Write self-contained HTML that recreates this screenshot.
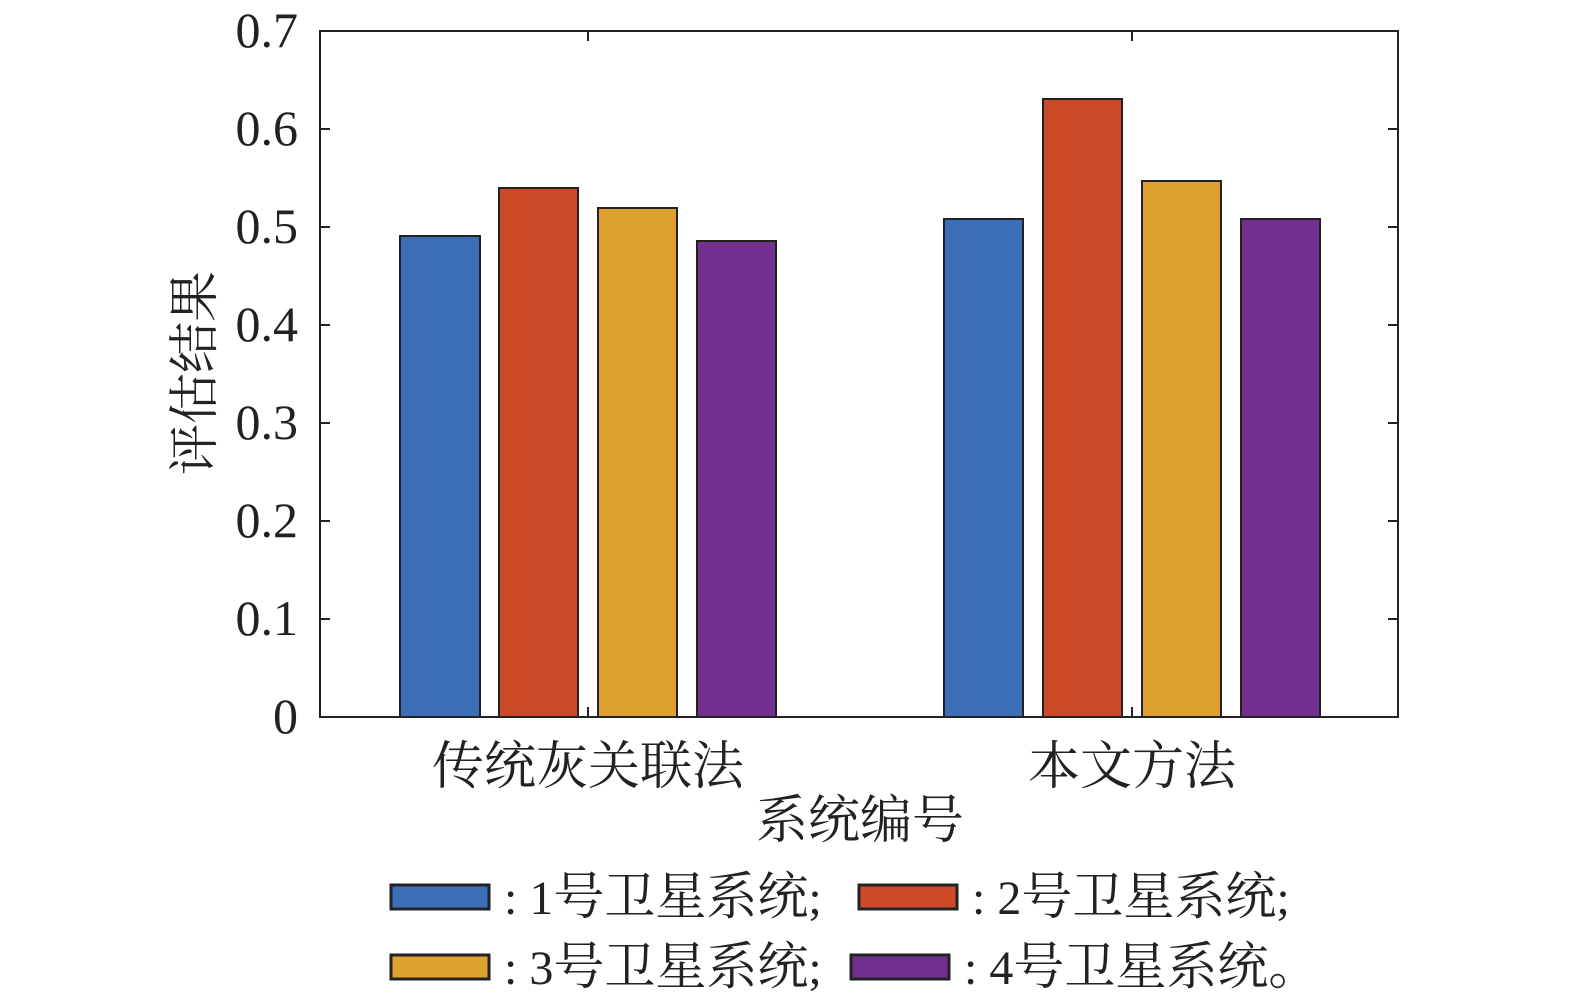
<!DOCTYPE html>
<html><head><meta charset="utf-8"><style>
html,body{margin:0;padding:0;background:#fff;}
svg text{font-family:"Liberation Serif","Noto Serif CJK SC",serif;fill:#222;}
.c{font-size:51px;}
</style></head><body>
<svg width="1575" height="1001" viewBox="0 0 1575 1001" xmlns="http://www.w3.org/2000/svg">
<g stroke="#222" stroke-width="2">
<rect x="400" y="236" width="80" height="481" fill="#3b70b8"/>
<rect x="499" y="188" width="79" height="529" fill="#cc4a28"/>
<rect x="598" y="208" width="79" height="509" fill="#dea12f"/>
<rect x="697" y="241" width="79" height="476" fill="#722f8e"/>
<rect x="944" y="219" width="79" height="498" fill="#3b70b8"/>
<rect x="1043" y="99" width="79" height="618" fill="#cc4a28"/>
<rect x="1142" y="181" width="79" height="536" fill="#dea12f"/>
<rect x="1241" y="219" width="79" height="498" fill="#722f8e"/>
<rect x="320" y="31" width="1078" height="686" fill="none"/>
<path d="M320 619h10M320 521h10M320 423h10M320 325h10M320 227h10M320 129h10M1398 619h-10M1398 521h-10M1398 423h-10M1398 325h-10M1398 227h-10M1398 129h-10M588 717v-10M588 31v10M1132 717v-10M1132 31v10"/>
</g>
<g font-size="50" text-anchor="end">
<text x="298" y="733">0</text>
<text x="298" y="635">0.1</text>
<text x="298" y="537">0.2</text>
<text x="298" y="439">0.3</text>
<text x="298" y="341">0.4</text>
<text x="298" y="243">0.5</text>
<text x="298" y="145">0.6</text>
<text x="298" y="47">0.7</text>
</g>
<text x="0" y="0" font-size="51" text-anchor="middle" transform="translate(212,373) rotate(-90)">评估结果</text>
<g font-size="52" text-anchor="middle">
<text x="588" y="784">传统灰关联法</text>
<text x="1132" y="784">本文方法</text>
<text x="860" y="838">系统编号</text>
</g>
<g stroke="#222" stroke-width="3">
<rect x="391" y="885" width="98" height="24" fill="#3b70b8"/>
<rect x="859" y="885" width="98" height="24" fill="#cc4a28"/>
<rect x="391" y="955" width="98" height="24" fill="#dea12f"/>
<rect x="851" y="955" width="98" height="24" fill="#722f8e"/>
</g>
<g font-size="48">
<text x="504" y="914">: 1<tspan class="c">号卫星系统</tspan>;</text>
<text x="972" y="914">: 2<tspan class="c">号卫星系统</tspan>;</text>
<text x="504" y="984">: 3<tspan class="c">号卫星系统</tspan>;</text>
<text x="964" y="984">: 4<tspan class="c">号卫星系统。</tspan></text>
</g>
</svg>
</body></html>
